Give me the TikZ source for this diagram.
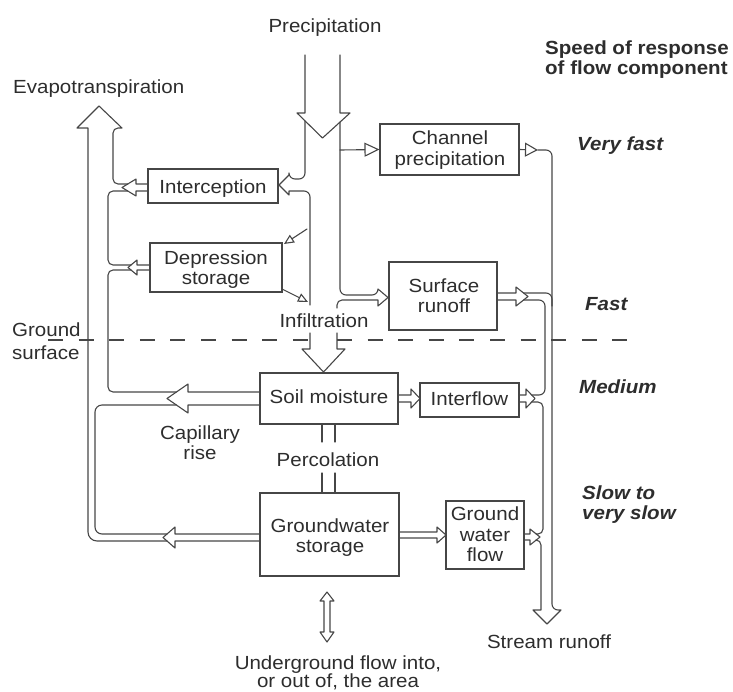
\documentclass[tikz,border=0pt]{standalone}
\usepackage{fontspec}
\setmainfont{Liberation Sans}[FakeStretch=1.08]
\usetikzlibrary{arrows.meta}
\definecolor{lc}{RGB}{70,70,70}
\definecolor{tc}{RGB}{45,45,45}
\begin{document}
\begin{tikzpicture}[x=1pt,y=-1pt,
  ln/.style={draw=lc,line width=1.1pt,line join=round,line cap=round},
  gline/.style={lc,line width=2pt,dash pattern=on 15pt off 15.6pt},
  box/.style={draw=lc,line width=1.1pt,rectangle,inner sep=0pt},
  txt/.style={text=tc,inner sep=0pt,font=\fontsize{19}{21}\selectfont},
  lab/.style={text=tc,inner sep=0pt,font=\fontsize{19}{21}\selectfont\bfseries\itshape},
  hd/.style={text=tc,inner sep=0pt,font=\fontsize{19}{21}\selectfont\bfseries}]
\useasboundingbox (0,0) rectangle (733,691);

% ground surface dashed line
\draw[gline] (48,340) -- (310,340);
\draw[gline] (337,340) -- (632,340);

% boxes
\node[box,minimum width=139pt,minimum height=51pt] (chan) at (449.5,149.5) {};
\node[box,minimum width=130pt,minimum height=34pt] (icp) at (213,186) {};
\node[box,minimum width=132pt,minimum height=49pt] (dep) at (216,267.5) {};
\node[box,minimum width=108pt,minimum height=68pt] (sur) at (443,296) {};
\node[box,minimum width=138pt,minimum height=51pt] (soil) at (329,398.5) {};
\node[box,minimum width=99pt,minimum height=34pt] (intf) at (469.5,400) {};
\node[box,minimum width=139pt,minimum height=83pt] (gws) at (329.5,534.5) {};
\node[box,minimum width=78pt,minimum height=68pt] (gwf) at (485,535) {};

% texts
\node[txt,anchor=base] (tprec) at (325,32) {Precipitation};
\node[hd,anchor=base west] (tsp1) at (545,54) {Speed of response};
\node[hd,anchor=base west] (tsp2) at (545,74) {of flow component};
\node[txt,anchor=base west] (tet) at (13,93) {Evapotranspiration};
\node[txt,anchor=base] (tch1) at (450,144) {Channel};
\node[txt,anchor=base] (tch2) at (450,165) {precipitation};
\node[lab,anchor=base west] (tvf) at (577,150) {Very fast};
\node[txt,anchor=base] (ticp) at (213,193) {Interception};
\node[txt,anchor=base] (tdep1) at (216,264) {Depression};
\node[txt,anchor=base] (tdep2) at (216,284) {storage};
\node[txt,anchor=base] (tsur1) at (444,292) {Surface};
\node[txt,anchor=base] (tsur2) at (444,312) {runoff};
\node[lab,anchor=base west] (tfast) at (585,310) {Fast};
\node[txt,anchor=base] (tinf) at (324,327) {Infiltration};
\node[txt,anchor=base west] (tgs1) at (12,336) {Ground};
\node[txt,anchor=base west] (tgs2) at (12,359) {surface};
\node[txt,anchor=base] (tsoil) at (329,403) {Soil moisture};
\node[txt,anchor=base] (tintf) at (469.5,405) {Interflow};
\node[lab,anchor=base west] (tmed) at (579,393) {Medium};
\node[txt,anchor=base] (tcap1) at (200,439) {Capillary};
\node[txt,anchor=base] (tcap2) at (200,459) {rise};
\node[txt,anchor=base] (tperc) at (328,466) {Percolation};
\node[txt,anchor=base] (tgws1) at (330,532) {Groundwater};
\node[txt,anchor=base] (tgws2) at (330,552) {storage};
\node[txt,anchor=base] (tgwf1) at (485,520) {Ground};
\node[txt,anchor=base] (tgwf2) at (485,541) {water};
\node[txt,anchor=base] (tgwf3) at (485,561) {flow};
\node[lab,anchor=base west] (tslow1) at (582,499) {Slow to};
\node[lab,anchor=base west] (tslow2) at (582,519) {very slow};
\node[txt,anchor=base] (tstr) at (549,648) {Stream runoff};
\node[txt,anchor=base] (tund1) at (338,669) {Underground flow into,};
\node[txt,anchor=base] (tund2) at (338,687) {or out of, the area};

% precipitation arrow
\draw[ln] (305,55) -- (305,113) -- (297,113) -- (322.5,138) -- (350,113) -- (340,113) -- (340,55);
% left wall -> interception in -> left wall of infiltration channel
\draw[ln,rounded corners=6pt] (305,121) |- (289,179) [sharp corners] -- (289,175) -- (279,185) -- (289,195) -- (289,191) [rounded corners=6pt] -| (310,305);
% right wall -> surface runoff in -> right wall of infiltration channel
\draw[ln,rounded corners=6pt] (340,122) |- (378,295) [sharp corners] -- (378,289) -- (388,297.5) -- (378,306) -- (378,300) [rounded corners=5pt] -| (337,308);
% channel precipitation
\draw[ln,-{Triangle[open,length=15pt,width=14pt]}] (340,150) -- (chan.west);
\draw[ln,-{Triangle[open,length=13pt,width=14pt]}] (chan.east) -- (538,150);
% stream channel outer wall and stream runoff head
\draw[ln,rounded corners=6pt] (538,150) -| (552,610) [sharp corners] -- (561,610) -- (547,624) -- (533,610) -- (541,610) [rounded corners=5pt] |- (536.25,540);
% depression storage small arrows
\draw[ln,-{Triangle[open,length=10pt,width=9pt]}] (307,229) -- (284,244);
\draw[ln,-{Triangle[open,length=10pt,width=9pt]}] (282,289) -- (308,302);
% infiltration
\draw[ln] (310,333) -- (310,349) -- (302,349) -- (323.5,372) -- (345,349) -- (337,349) -- (337,333);

% surface runoff out
\draw[ln] (sur.east |- 0,293) -- (516,293) -- (516,287) -- (528,296.5) -- (516,306) -- (516,300) -- (sur.east |- 0,300);
\draw[ln,rounded corners=6pt] (523.6,293) -| (552,306);
\draw[ln,rounded corners=6pt] (531.7,395) -| (545,300) -- (523.6,300);
% soil -> interflow
\draw[ln] (soil.east |- 0,395) -- (411,395) -- (411,389) -- (420,398.5) -- (411,408) -- (411,402) -- (soil.east |- 0,402);
% interflow out
\draw[ln] (intf.east |- 0,395) -- (526,395) -- (526,389) -- (535,398.5) -- (526,408) -- (526,402) -- (intf.east |- 0,402);
\draw[ln,rounded corners=5pt] (536.25,534) -| (543,402) -- (531.7,402);
% groundwater -> ground water flow
\draw[ln] (gws.east |- 0,532) -- (437,532) -- (437,527) -- (446,535) -- (437,543) -- (437,538) -- (gws.east |- 0,538);
% ground water flow out
\draw[ln] (gwf.east |- 0,534) -- (530,534) -- (530,529) -- (540,537) -- (530,545) -- (530,540) -- (gwf.east |- 0,540);

% percolation
\draw[ln] (322,424) -- (322,442) (335,424) -- (335,442);
\draw[ln] (322,473) -- (322,493) (335,473) -- (335,493);

% left side: interception out
\draw[ln] (icp.west |- 0,184) -- (136,184) -- (136,179) -- (122,187.5) -- (136,196) -- (136,191) -- (icp.west |- 0,191);
% evapotranspiration arrow walls
\draw[ln,rounded corners=5pt] (127.8,184) -| (113,128) [sharp corners] -- (122,128) -- (99,106) -- (77,128) -- (88,128) [rounded corners=9pt] |- (167,541);
% depression out
\draw[ln] (dep.west |- 0,265) -- (137,265) -- (137,260) -- (128,267.5) -- (137,275) -- (137,270) -- (dep.west |- 0,270);
\draw[ln,rounded corners=5pt] (131,265) -| (108,191) -- (127.8,191);
% capillary rise
\draw[ln] (soil.west |- 0,392) -- (188,392) -- (188,384) -- (167,398.5) -- (188,413) -- (188,405) -- (soil.west |- 0,405);
\draw[ln,rounded corners=5pt] (176.4,392) -| (108,270) -- (131,270);
% groundwater to evapotranspiration
\draw[ln] (gws.west |- 0,534) -- (175,534) -- (175,527) -- (163,537.5) -- (175,548) -- (175,541) -- (gws.west |- 0,541);
\draw[ln,rounded corners=7pt] (167,534) -| (95,405) -- (176.4,405);

% underground flow double arrow
\draw[ln] (327,592) -- (334,601) -- (330,601) -- (330,632) -- (334,632) -- (327,642) -- (320,632) -- (324,632) -- (324,601) -- (320,601) -- cycle;
\end{tikzpicture}
\end{document}
